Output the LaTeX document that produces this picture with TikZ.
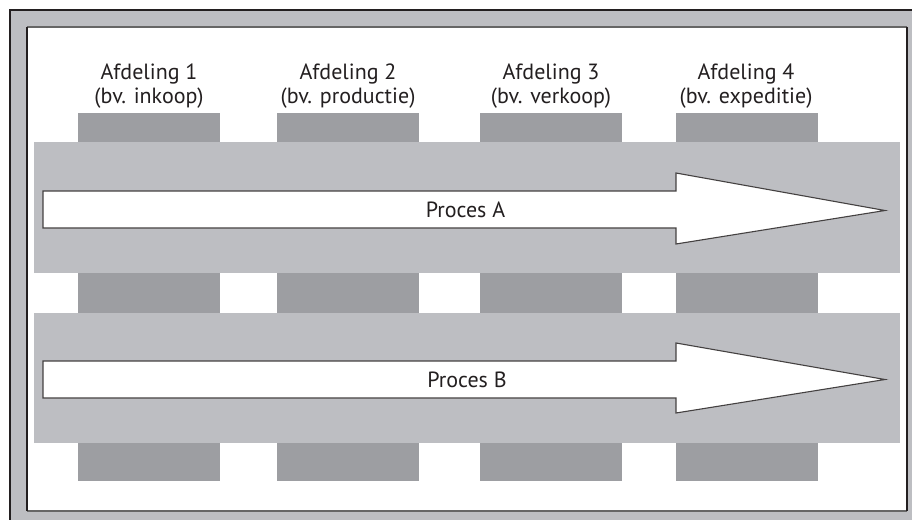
\documentclass[tikz,border=0pt]{standalone}
\usepackage{fontspec}
\setmainfont{PT Sans}
\definecolor{band}{HTML}{BDBEC2}
\definecolor{block}{HTML}{9D9EA2}
\definecolor{ink}{HTML}{231F20}
\begin{document}
\begin{tikzpicture}[x=1pt,y=-1pt,
  label/.style={font=\fontsize{22}{24}\selectfont, text=ink, align=center, inner sep=0pt},
  procarrow/.style={fill=white, draw=ink!85, line width=1.1pt, line join=miter}]
\useasboundingbox (0,0) rectangle (912,519);
\clip (0,0) rectangle (912,519);

% outer frame
\fill[white] (0,0) rectangle (912,519);
\fill[band] (10,10) rectangle (930,540);
\draw[ink, line width=1.2pt] (10,540) -- (10,10) -- (930,10);
\fill[white] (27,27) rectangle (907,511);
\draw[black!60, line width=1.5pt] (27,27) -- (907,27);
\draw[black!60, line width=1.8pt] (27,511) -- (907,511);
\draw[ink, line width=1.3pt] (27,27) -- (27,511);
\draw[ink, line width=1.3pt] (907,27) -- (907,511);

% department columns
\foreach \x in {78,277,480,676} {
  \fill[block] (\x,113) rectangle ++(142,30);
  \fill[block] (\x,272) rectangle ++(142,42);
  \fill[block] (\x,442) rectangle ++(142,39);
}

% process bands
\fill[band] (34,142) rectangle (900,273);
\fill[band] (34,313) rectangle (900,443);

% process arrows
\draw[procarrow] (43,191) -- (676,191) -- (676,173) -- (885,210.5) -- (676,244) -- (676,228) -- (43,228) -- cycle;
\draw[procarrow] (43,361) -- (676,361) -- (676,343) -- (885,379.5) -- (676,413) -- (676,398) -- (43,398) -- cycle;

\node[label] (pa) at (465.5,210) {Proces A};
\node[label] (pb) at (467,380) {Proces B};

% department labels
\node[label] (a1) at (149,86) {Afdeling 1\\(bv. inkoop)};
\node[label] (a2) at (348,86) {Afdeling 2\\(bv. productie)};
\node[label] (a3) at (551,86) {Afdeling 3\\(bv. verkoop)};
\node[label] (a4) at (746,86) {Afdeling 4\\(bv. expeditie)};
\end{tikzpicture}
\end{document}
